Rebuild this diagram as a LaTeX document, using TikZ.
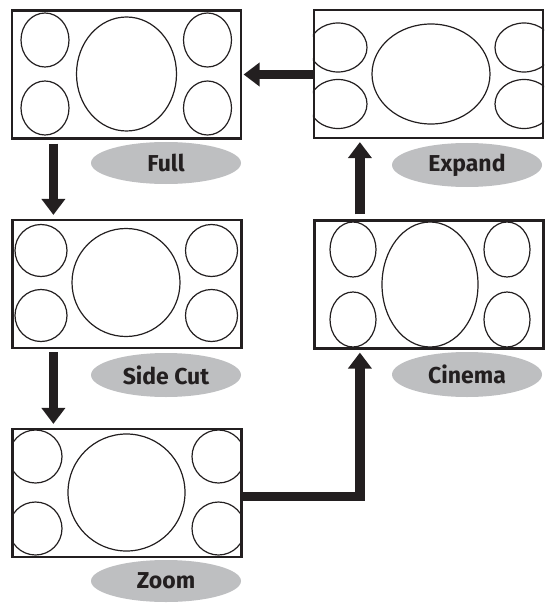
\documentclass[tikz,border=0pt]{standalone}
\usepackage{fontspec}
\newfontfamily\lblfont{Fira Sans}
\usetikzlibrary{shapes.geometric,arrows.meta,calc}
\definecolor{ink}{RGB}{35,31,32}
\definecolor{pill}{RGB}{190,191,193}
\tikzset{
  screen/.style={draw=ink, line width=2.2pt, minimum width=229pt, minimum height=128pt, inner sep=0pt},
  disc/.style={draw=ink, line width=1.2pt},
  tag/.style={ellipse, fill=pill, minimum width=150pt, minimum height=42pt, inner sep=0pt,
    text=ink, font=\lblfont\bfseries\fontsize{23pt}{25pt}\selectfont},
  flow/.style={draw=ink, line width=9.5pt, line join=miter, -{Triangle[length=16pt,width=23pt]}}
}
\begin{document}
\begin{tikzpicture}[x=1pt,y=-1pt]
\useasboundingbox (0,0) rectangle (544,604);
% screens
\node[screen] (full) at (126.5,74.5) {};
\node[screen] (sidecut) at (127,284) {};
\node[screen] (zoom) at (127,493) {};
\node[screen] (expand) at (428.5,74) {};
\node[screen] (cinema) at (429,284.5) {};
% Full
\draw[disc] (45,40) ellipse [x radius=24pt, y radius=27pt];
\draw[disc] (45,108) ellipse [x radius=24pt, y radius=27pt];
\draw[disc] (207.5,40) ellipse [x radius=24pt, y radius=27pt];
\draw[disc] (207.5,108) ellipse [x radius=24pt, y radius=27pt];
\draw[disc] (126.5,74) ellipse [x radius=50pt, y radius=57pt];
% Side Cut
\draw[disc] (41,250.5) circle [radius=26pt];
\draw[disc] (41,315.5) circle [radius=26pt];
\draw[disc] (211.5,250.5) circle [radius=26pt];
\draw[disc] (211.5,315.5) circle [radius=26pt];
\draw[disc] (126,282.5) circle [radius=54pt];
% Zoom
\begin{scope}
\clip (zoom.south west) rectangle (zoom.north east);
\draw[disc] (35.5,456.5) circle [radius=26.5pt];
\draw[disc] (35.5,528.5) circle [radius=26.5pt];
\draw[disc] (218.5,456.5) circle [radius=26.5pt];
\draw[disc] (218.5,528.5) circle [radius=26.5pt];
\end{scope}
\draw[disc] (126.5,492.5) circle [radius=58.5pt];
% Expand
\begin{scope}
\clip (expand.south west) rectangle (expand.north east);
\draw[disc] (338,47.5) ellipse [x radius=29pt, y radius=24.5pt];
\draw[disc] (338,104) ellipse [x radius=29pt, y radius=24.5pt];
\draw[disc] (524,47.5) ellipse [x radius=29pt, y radius=24.5pt];
\draw[disc] (524,104) ellipse [x radius=29pt, y radius=24.5pt];
\end{scope}
\draw[disc] (431,74) ellipse [x radius=59pt, y radius=50pt];
% Cinema
\draw[disc] (353,249.5) ellipse [x radius=23pt, y radius=27.5pt];
\draw[disc] (353,319.5) ellipse [x radius=23pt, y radius=27.5pt];
\draw[disc] (507,249.5) ellipse [x radius=23pt, y radius=27.5pt];
\draw[disc] (507,319.5) ellipse [x radius=23pt, y radius=27.5pt];
\draw[disc] (430,284.5) ellipse [x radius=48pt, y radius=62.5pt];
% redraw frames on top
\node[screen] at (zoom) {};
\node[screen] at (expand) {};
% labels
\node[tag] (lfull) at (166,163) {Full};
\node[tag, minimum height=44pt] (lsidecut) at (166,375) {Side Cut};
\node[tag] (lzoom) at (166,581) {Zoom};
\node[tag, minimum height=44pt] (lexpand) at (467,165) {Expand};
\node[tag, minimum height=45pt] (lcinema) at (467,374.5) {Cinema};
% arrows
\draw[flow] ($(full.south west)+(42.5,4)$) -- ($(sidecut.north west)+(42,-4)$);
\draw[flow] ($(sidecut.south west)+(42,3)$) -- ($(zoom.north west)+(42,-4)$);
\draw[flow] ($(zoom.east)+(-1,3.5)$) -| ($(cinema.south west)+(46.5,3)$);
\draw[flow] ($(cinema.north west)+(46.5,-5)$) -- ($(expand.south west)+(47,3)$);
\draw[flow] ($(expand.west)+(1,0.5)$) -- ($(full.east)+(1.5,0)$);
\end{tikzpicture}
\end{document}
